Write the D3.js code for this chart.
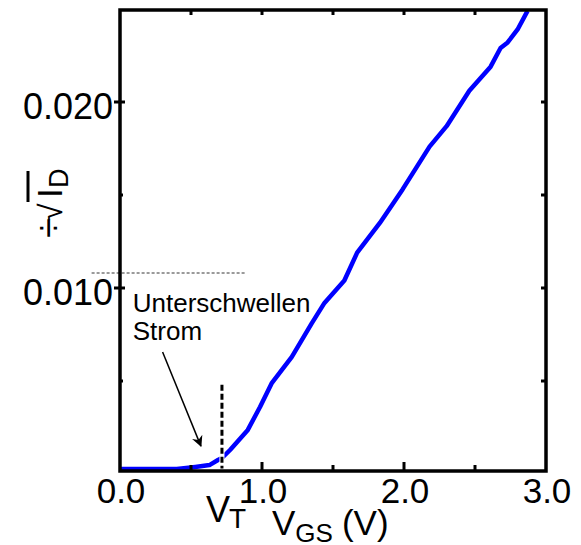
<!DOCTYPE html>
<html>
<head>
<meta charset="utf-8">
<script src="https://cdn.jsdelivr.net/npm/d3@7/dist/d3.min.js"></script>
<style>
  html, body { margin: 0; padding: 0; background: #fff; }
  svg { display: block; }
  text { font-family: "Liberation Sans", Arial, sans-serif; fill: #000; }
</style>
</head>
<body>
<svg id="chart" width="581" height="545"></svg>
<script>
// ---- data ----
const vgs    = [0.00, 0.40, 0.53, 0.63, 0.69, 0.718, 0.775, 0.90, 0.986, 1.07, 1.21, 1.35, 1.44, 1.58, 1.67, 1.83, 1.99, 2.18, 2.30, 2.46, 2.61, 2.68, 2.73, 2.80, 2.87];
const sqrtId = [0.00027, 0.00027, 0.00038, 0.00048, 0.00075, 0.00086, 0.00129, 0.00237, 0.0036, 0.0049, 0.0063, 0.0081, 0.0092, 0.0104, 0.0119, 0.0135, 0.0153, 0.0176, 0.0187, 0.0206, 0.0219, 0.0229, 0.0232, 0.0239, 0.0249];
const xMajorTicks = [0.0, 1.0, 2.0, 3.0];
const xMinorTicks = [0.5, 1.5, 2.5];
const xTickLabels = ["0.0", "1.0", "2.0", "3.0"];
const yMajorTicks = [0.010, 0.020];
const yMinorTicks = [0.005, 0.015];
const yTickLabels = ["0.010", "0.020"];
const vT = 0.718;
const vTLineTop = 0.0048;
const vTLineBottom = 0.0003;
const refLevel = 0.0108;           // gray dotted reference line
const refLineX = [-0.2, 0.88];
const annotationLines = ["Unterschwellen", "Strom"];
const annotationPos = [0.09, 0.0087];
const arrowFrom = [0.30, 0.00656];
const arrowTo = [0.57, 0.00150];

// ---- layout ----
const svg = d3.select("#chart");
const frame = { left: 120, right: 546, top: 10, bottom: 471 };
const x = d3.scaleLinear().domain([0, 3]).range([120, 546]);
const y = d3.scaleLinear().domain([0, 0.025]).range([474, 9]);

// blue curve
const line = d3.line().x((d, i) => x(vgs[i])).y((d, i) => y(sqrtId[i])).curve(d3.curveLinear);
svg.append("defs").append("clipPath").attr("id", "clip")
  .append("rect").attr("x", frame.left - 4).attr("y", frame.top)
  .attr("width", frame.right - frame.left + 4).attr("height", frame.bottom - frame.top);
svg.append("path").datum(vgs)
  .attr("clip-path", "url(#clip)")
  .attr("d", line)
  .attr("fill", "none")
  .attr("stroke", "#0000ff")
  .attr("stroke-width", 4.5)
  .attr("stroke-linejoin", "round");

// V_T dashed line (white gaps)
svg.append("line")
  .attr("x1", x(vT)).attr("x2", x(vT))
  .attr("y1", y(vTLineTop)).attr("y2", y(vTLineBottom))
  .attr("stroke", "#fff").attr("stroke-width", 5);
svg.append("line")
  .attr("x1", x(vT)).attr("x2", x(vT))
  .attr("y1", y(vTLineTop)).attr("y2", y(vTLineBottom))
  .attr("stroke", "#000").attr("stroke-width", 3)
  .attr("stroke-dasharray", "6 3");

// gray dotted reference line
svg.append("line")
  .attr("x1", x(refLineX[0])).attr("x2", x(refLineX[1]))
  .attr("y1", y(refLevel)).attr("y2", y(refLevel))
  .attr("stroke", "#9a9a9a").attr("stroke-width", 2)
  .attr("stroke-dasharray", "3 2");

// frame
svg.append("rect")
  .attr("x", frame.left).attr("y", frame.top)
  .attr("width", frame.right - frame.left).attr("height", frame.bottom - frame.top)
  .attr("fill", "none").attr("stroke", "#000").attr("stroke-width", 3.5);

// ticks
const tg = svg.append("g").attr("stroke", "#000").attr("stroke-width", 3);
xMajorTicks.filter(v => v > 0 && v < 3).forEach(v => {
  tg.append("line").attr("x1", x(v)).attr("x2", x(v)).attr("y1", frame.bottom).attr("y2", frame.bottom - 9);
});
xMinorTicks.forEach(v => {
  tg.append("line").attr("x1", x(v)).attr("x2", x(v)).attr("y1", frame.bottom).attr("y2", frame.bottom - 6);
});
xMajorTicks.concat(xMinorTicks).filter(v => v > 0 && v < 3).forEach(v => {
  tg.append("line").attr("x1", x(v)).attr("x2", x(v)).attr("y1", frame.top).attr("y2", frame.top + 5);
});
yMajorTicks.forEach(v => {
  tg.append("line").attr("x1", frame.left - 6).attr("x2", frame.left + 5).attr("y1", y(v)).attr("y2", y(v));
});
yMinorTicks.forEach(v => {
  tg.append("line").attr("x1", frame.left).attr("x2", frame.left + 3).attr("y1", y(v)).attr("y2", y(v));
});
yMajorTicks.concat(yMinorTicks).forEach(v => {
  tg.append("line").attr("x1", frame.right).attr("x2", frame.right - 5).attr("y1", y(v)).attr("y2", y(v));
});

// tick labels
xMajorTicks.forEach((v, i) => {
  svg.append("text").attr("x", x(v) + 1).attr("y", 503)
    .attr("text-anchor", "middle").attr("font-size", 35).text(xTickLabels[i]);
});
yMajorTicks.forEach((v, i) => {
  svg.append("text").attr("x", 113).attr("y", y(v) + 17)
    .attr("text-anchor", "end").attr("font-size", 36).text(yTickLabels[i]);
});

// V_T label
const vtText = svg.append("text").attr("x", x(vT) - 16).attr("y", 522).attr("font-size", 36);
vtText.append("tspan").text("V");
vtText.append("tspan").attr("font-size", 28).attr("dy", 6).attr("dx", -1).text("T");

// x axis title
const xt = svg.append("text").attr("x", 272).attr("y", 535).attr("font-size", 35);
xt.append("tspan").text("V");
xt.append("tspan").attr("font-size", 26).attr("dy", 7).text("GS");
xt.append("tspan").attr("font-size", 35).attr("dy", -7).attr("dx", 9).text("(V)");

// y axis title (rotated)
const yg = svg.append("g").attr("transform", "translate(62,238) rotate(-90)");
yg.append("text").attr("x", 0).attr("y", -1)
  .attr("font-family", "DejaVu Sans").attr("font-size", 36).text("÷");
yg.append("text").attr("x", 17).attr("y", 0)
  .attr("font-family", "DejaVu Sans").attr("font-size", 32).text("√");
yg.append("text").attr("x", 40).attr("y", 0).attr("font-size", 35).text("I");
yg.append("text").attr("x", 50).attr("y", 6).attr("font-size", 27).text("D");
yg.append("line").attr("x1", 36).attr("x2", 67).attr("y1", -34).attr("y2", -34)
  .attr("stroke", "#000").attr("stroke-width", 3);

// annotation
annotationLines.forEach((t, i) => {
  svg.append("text").attr("x", x(annotationPos[0])).attr("y", y(annotationPos[1]) + i * 28)
    .attr("font-size", 26).text(t);
});
svg.append("defs").append("marker")
  .attr("id", "ah").attr("viewBox", "0 0 10 10").attr("refX", 9).attr("refY", 5)
  .attr("markerWidth", 13).attr("markerHeight", 11).attr("markerUnits", "userSpaceOnUse")
  .attr("orient", "auto")
  .append("path").attr("d", "M0,0 L10,5 L0,10 L3,5 Z").attr("fill", "#000");
svg.append("line")
  .attr("x1", x(arrowFrom[0])).attr("y1", y(arrowFrom[1]))
  .attr("x2", x(arrowTo[0])).attr("y2", y(arrowTo[1]))
  .attr("stroke", "#000").attr("stroke-width", 1.5)
  .attr("marker-end", "url(#ah)");
</script>
</body>
</html>
